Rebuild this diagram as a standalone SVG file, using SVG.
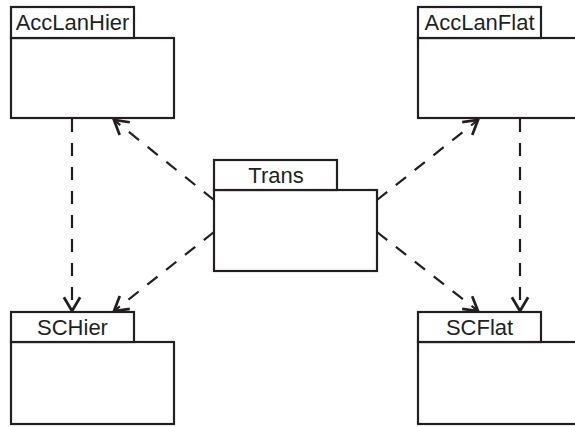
<svg xmlns="http://www.w3.org/2000/svg" width="575" height="427" viewBox="0 0 575 427">
<defs>
<style>
.box{fill:#fff;stroke:#231f20;stroke-width:2.2}
.lbl{font-family:"Liberation Sans",Arial,sans-serif;font-size:22px;fill:#231f20;text-anchor:middle}
.dep{fill:none;stroke:#231f20;stroke-width:2.2;stroke-dasharray:13,11}
</style>
<marker id="open" markerUnits="userSpaceOnUse" markerWidth="20" markerHeight="20" viewBox="-12 -8 14 16" refX="0" refY="0" orient="auto">
<path d="M-11,-6.5 L0,0 L-11,6.5" fill="none" stroke="#231f20" stroke-width="2.2"/>
</marker>
</defs>
<rect width="575" height="427" fill="#fff"/>
<g id="connectors">
<line class="dep" x1="72" y1="119" x2="72" y2="311" marker-end="url(#open)"/>
<line class="dep" x1="520" y1="119" x2="520" y2="311" marker-end="url(#open)"/>
<line class="dep" x1="214" y1="200" x2="114" y2="120" marker-end="url(#open)"/>
<line class="dep" x1="214" y1="232" x2="114" y2="311" marker-end="url(#open)"/>
<line class="dep" x1="377" y1="200" x2="478" y2="120" marker-end="url(#open)"/>
<line class="dep" x1="377" y1="232" x2="478" y2="311" marker-end="url(#open)"/>
</g>
<g id="AccLanHier">
<rect class="box" x="11" y="38" width="163" height="80"/>
<rect class="box" x="11" y="7" width="123" height="31"/>
<text class="lbl" x="72.5" y="30">AccLanHier</text>
</g>
<g id="AccLanFlat">
<rect class="box" x="418" y="38" width="163" height="80"/>
<rect class="box" x="418" y="7" width="123" height="31"/>
<text class="lbl" x="479.5" y="30">AccLanFlat</text>
</g>
<g id="Trans">
<rect class="box" x="214" y="190" width="163" height="81"/>
<rect class="box" x="214" y="160" width="123" height="30"/>
<text class="lbl" x="276" y="183">Trans</text>
</g>
<g id="SCHier">
<rect class="box" x="11" y="342" width="163" height="82"/>
<rect class="box" x="11" y="312" width="123" height="30"/>
<text class="lbl" x="72.5" y="335">SCHier</text>
</g>
<g id="SCFlat">
<rect class="box" x="418" y="342" width="163" height="82"/>
<rect class="box" x="418" y="312" width="123" height="30"/>
<text class="lbl" x="479.5" y="335">SCFlat</text>
</g>
</svg>
